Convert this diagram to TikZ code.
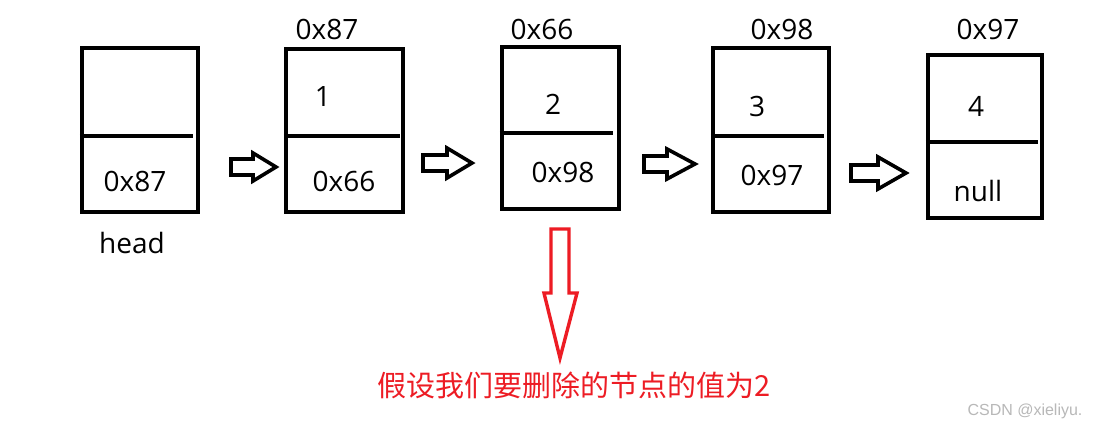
\documentclass[tikz,border=0pt]{standalone}
\usepackage{fontspec}
\setmainfont{Open Sans}
\newfontfamily\cjk{Noto Sans CJK SC}
\newfontfamily\wmfont{Liberation Sans}
\definecolor{mred}{HTML}{ED1C24}
\begin{document}
\begin{tikzpicture}[x=1pt,y=-1pt,
  cell/.style={draw=black,line width=4.2pt,inner sep=0pt},
  divider/.style={draw=black,line width=4.2pt},
  lbl/.style={font=\fontsize{28}{31}\selectfont,inner sep=0pt,anchor=center},
  blk/.style={draw=black,line width=3.6pt,line join=miter,fill=white},
  redarr/.style={draw=mred,line width=3.4pt,line join=miter},
  note/.style={text=mred,font=\cjk\fontsize{29}{33}\selectfont,inner sep=0pt},
  wm/.style={text=black!28,font=\wmfont\fontsize{16}{19}\selectfont,inner sep=0pt}]
\fill[white] (0,0) rectangle (1098,429);
\useasboundingbox (0,0) rectangle (1098,429);

% boxes
\node[cell,minimum width=116pt,minimum height=164pt] (b1) at (140,130) {};
\node[cell,minimum width=117pt,minimum height=163pt] (b2) at (344.5,130.5) {};
\node[cell,minimum width=117pt,minimum height=162pt] (b3) at (560.5,128) {};
\node[cell,minimum width=116pt,minimum height=164pt] (b4) at (771,130) {};
\node[cell,minimum width=114pt,minimum height=163pt] (b5) at (985,136.5) {};

% dividers
\draw[divider] (b1.west |- 0,136) -- (193,136);
\draw[divider] (b2.west |- 0,136) -- (400,136);
\draw[divider] (b3.west |- 0,133) -- (613,133);
\draw[divider] (b4.west |- 0,136) -- (824,136);
\draw[divider] (b5.west |- 0,142) -- (1038,142);

% addresses above
\node[lbl] (a2) at (327,29) {0x87};
\node[lbl] (a3) at (542,29) {0x66};
\node[lbl] (a4) at (782,29) {0x98};
\node[lbl] (a5) at (988,29) {0x97};

% values
\node[lbl] (v2) at (323,97) {1};
\node[lbl] (v3) at (553,104) {2};
\node[lbl] (v4) at (757,106) {3};
\node[lbl] (v5) at (976,106) {4};

% next pointers
\node[lbl] (n1) at (135,181) {0x87};
\node[lbl] (n2) at (344,181) {0x66};
\node[lbl] (n3) at (563,172) {0x98};
\node[lbl] (n4) at (772,175) {0x97};
\node[lbl] (n5) at (978,191) {null};

\node[lbl] (hd) at (132,243) {head};

% block arrows
\foreach \xa/\xb/\xc/\yy/\hs/\hh in {231/253/276/167/8/14, 423/447/472/163/8/15, 644/667/695/164/8/15, 851/878/906/173/8/16}{
  \draw[blk] (\xa,\yy-\hs) -- (\xb,\yy-\hs) -- (\xb,\yy-\hh) -- (\xc,\yy) -- (\xb,\yy+\hh) -- (\xb,\yy+\hs) -- (\xa,\yy+\hs) -- cycle;
}

% red arrow
\draw[redarr] (551,229) -- (569,229) -- (569,293) -- (577,293) -- (560,358) -- (544,293) -- (551,293) -- cycle;

\node[note] (nt) at (574,385) {假设我们要删除的节点的值为2};
\node[wm] (wmk) at (1025,411) {CSDN @xieliyu.};
\end{tikzpicture}
\end{document}
